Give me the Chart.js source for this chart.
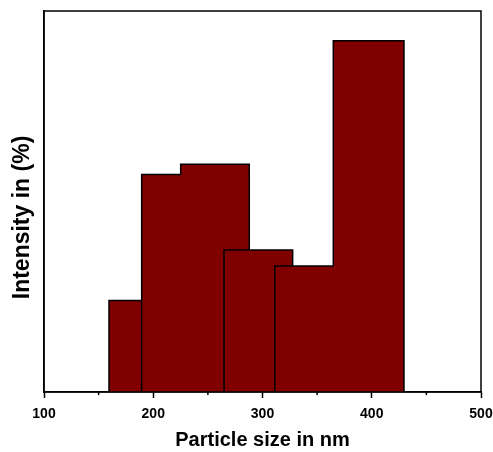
<!DOCTYPE html>
<html>
<head>
<meta charset="utf-8">
<script src="https://cdn.jsdelivr.net/npm/chart.js@4/dist/chart.umd.min.js"></script>
<style>
  html,body{margin:0;padding:0;background:#fff;}
  canvas{display:block;}
</style>
</head>
<body>
<canvas id="chartGrafik" width="493" height="452"></canvas>
<script>
// ================= DATA =================
const binStart  = [159.5, 189.4, 225.1, 264.8, 311.2, 364.8];
const binEnd    = [189.4, 225.1, 287.9, 327.6, 364.8, 429.5];
const intensity = [24.0, 57.1, 59.8, 37.3, 33.1, 92.2];

// bars that melt into the next one (no edge between them)
const openRight = [false, true, false, false, true, false];

const BAR_FILL = "#800000";
const FONT = "'Liberation Sans', Arial, sans-serif";

// ================= GROUP BARS =================
const groups = [];
let cur = [];
intensity.forEach((v, i) => {
  cur.push(i);
  if (!openRight[i]) { groups.push(cur); cur = []; }
});
if (cur.length) groups.push(cur);

// later groups sit on top of earlier ones
const datasets = groups.map((g, k) => {
  const pts = [{x: binStart[g[0]], y: 0}];
  g.forEach(i => {
    pts.push({x: binStart[i], y: intensity[i]});
    pts.push({x: binEnd[i],   y: intensity[i]});
  });
  pts.push({x: binEnd[g[g.length - 1]], y: 0});
  return {
    data: pts,
    showLine: true,
    fill: "origin",
    backgroundColor: BAR_FILL,
    borderColor: "#000",
    borderWidth: 1.5,
    pointRadius: 0,
    tension: 0,
    order: groups.length - k
  };
});

// ================= FRAME + MINOR TICKS =================
const frame = {
  id: "frame",
  afterDraw(chart) {
    const {ctx, chartArea: a, scales: {x}} = chart;
    ctx.save();
    ctx.strokeStyle = "#000";
    ctx.lineWidth = 1.5;
    ctx.strokeRect(a.left, a.top, a.right - a.left, a.bottom - a.top);
    ctx.beginPath();
    for (let v = 150; v < 500; v += 100) {
      const px = x.getPixelForValue(v);
      ctx.moveTo(px, a.bottom);
      ctx.lineTo(px, a.bottom + 3);
    }
    ctx.stroke();
    ctx.restore();
  }
};

new Chart(document.getElementById("chartGrafik").getContext("2d"), {
  type: "scatter",
  data: { datasets },
  options: {
    responsive: false,
    animation: false,
    layout: { padding: { top: 11, right: 12, left: 0, bottom: 0 } },
    plugins: { legend: { display: false }, tooltip: { enabled: false } },
    scales: {
      x: {
        type: "linear",
        min: 100, max: 500,
        afterFit(s) { s.height = 60; s.paddingLeft = 0; s.paddingRight = 0; },
        ticks: {
          stepSize: 100,
          color: "#000",
          padding: 8,
          font: { family: FONT, size: 14, weight: "bold" }
        },
        grid: {
          display: true, drawOnChartArea: false, drawTicks: true,
          tickLength: 6, tickColor: "#000", tickWidth: 1.5
        },
        border: { display: true, color: "#000", width: 1.5 },
        title: {
          display: true,
          text: "Particle size in nm",
          color: "#000",
          padding: { top: 0, bottom: 0 },
          font: { family: FONT, size: 20, weight: "bold" }
        }
      },
      y: {
        min: 0, max: 100,
        afterFit(s) { s.width = 44; },
        ticks: { display: false },
        grid: { display: false },
        border: { display: true, color: "#000", width: 1.5 },
        title: {
          display: true,
          text: "Intensity in (%)     ",
          color: "#000",
          padding: { top: 9, bottom: 0 },
          font: { family: FONT, size: 23, weight: "bold" }
        }
      }
    }
  },
  plugins: [frame]
});
</script>
</body>
</html>
